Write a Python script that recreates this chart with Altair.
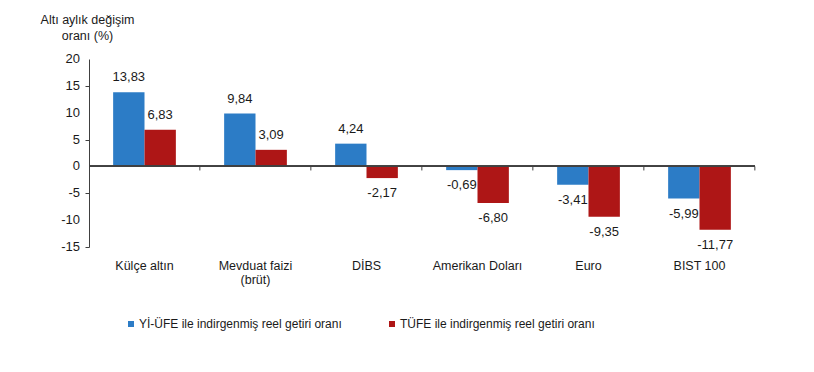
import altair as alt
import pandas as pd

categories = ["Külçe altın", "Mevduat faizi (brüt)", "DİBS", "Amerikan Doları", "Euro", "BIST 100"]
series = ["Yİ-ÜFE ile indirgenmiş reel getiri oranı", "TÜFE ile indirgenmiş reel getiri oranı"]
yi_ufe = [13.83, 9.84, 4.24, -0.69, -3.41, -5.99]
tufe = [6.83, 3.09, -2.17, -6.80, -9.35, -11.77]
colors = ["#2C7CC6", "#AE1616"]
y_ticks = [-15, -10, -5, 0, 5, 10, 15, 20]

rows = []
for s, vals in zip(series, [yi_ufe, tufe]):
    for c, v in zip(categories, vals):
        rows.append({"cat": c, "series": s, "value": v,
                     "label": f"{v:.2f}".replace(".", ",")})
df = pd.DataFrame(rows)
tick_df = pd.DataFrame({"value": y_ticks, "label": [str(t) for t in y_ticks]})

FONT = "Liberation Sans"
TXT = "#1a1a1a"
AX = "#404040"

x_enc = alt.X("cat:N", sort=categories,
              scale=alt.Scale(paddingInner=0.435, paddingOuter=0.2175),
              axis=alt.Axis(title=None, domain=False, ticks=False, labelAngle=0,
                            labelPadding=12, labelFontSize=12.5, labelColor=TXT,
                            labelFont=FONT,
                            labelExpr="datum.label == 'Mevduat faizi (brüt)' ? ['Mevduat faizi', '(brüt)'] : datum.label"))
y_axis = alt.Axis(values=y_ticks, grid=False, labels=False,
                  domainColor=AX, tickColor=AX, tickSize=4,
                  title=["Altı aylık değişim", "oranı (%)"],
                  titleAngle=0, titleAlign="center", titleBaseline="top",
                  titleX=-2, titleY=-46, titleLineHeight=16,
                  titleFontSize=12.5, titleFontWeight="normal",
                  titleColor=TXT, titleFont=FONT)
y_scale = alt.Scale(domain=[-15, 20], nice=False, zero=False)
y_enc = alt.Y("value:Q", scale=y_scale, axis=y_axis)
color_enc = alt.Color("series:N", scale=alt.Scale(domain=series, range=colors),
                      legend=alt.Legend(title=None, orient="none", legendX=36, legendY=259,
                                        direction="horizontal", symbolType="square",
                                        symbolSize=36, labelFontSize=12, labelLimit=0,
                                        columnPadding=44, labelOffset=2,
                                        labelColor=TXT, labelFont=FONT,
                                        symbolStrokeWidth=0))
xoff = alt.XOffset("series:N", sort=series)

bars = alt.Chart(df).mark_bar().encode(x=x_enc, xOffset=xoff, y=y_enc, color=color_enc)

pos_text = alt.Chart(df).transform_filter("datum.value >= 0").mark_text(
    dy=-15, baseline="middle", fontSize=13, font=FONT, color=TXT
).encode(x=alt.X("cat:N", sort=categories), xOffset=xoff, y=y_enc, text="label:N")

neg_text = alt.Chart(df).transform_filter("datum.value < 0").mark_text(
    dy=15, baseline="middle", fontSize=13, font=FONT, color=TXT
).encode(x=alt.X("cat:N", sort=categories), xOffset=xoff, y=y_enc, text="label:N")

tick_labels = alt.Chart(tick_df).mark_text(
    align="right", baseline="middle", fontSize=13, font=FONT, color=TXT
).encode(x=alt.value(-9), y=y_enc, text="label:N")

zero = alt.Chart(df).mark_rule(color=AX, strokeWidth=1.2).encode(y=alt.datum(0))

ticks_df = pd.DataFrame({"cat": categories})
zticks = alt.Chart(ticks_df).mark_rule(color=AX, strokeWidth=1, xOffset=24).encode(
    x=alt.X("cat:N", sort=categories, bandPosition=1),
    y=alt.datum(0), y2=alt.datum(-0.75))

chart = alt.layer(bars, pos_text, neg_text, tick_labels, zero, zticks).properties(
    width=666, height=188,
    padding={"left": 81, "top": 51, "right": 40, "bottom": 100},
    autosize="none",
).configure(font=FONT).configure_view(stroke=None)

chart.save("out.html", embed_options={"renderer": "svg", "actions": False})
